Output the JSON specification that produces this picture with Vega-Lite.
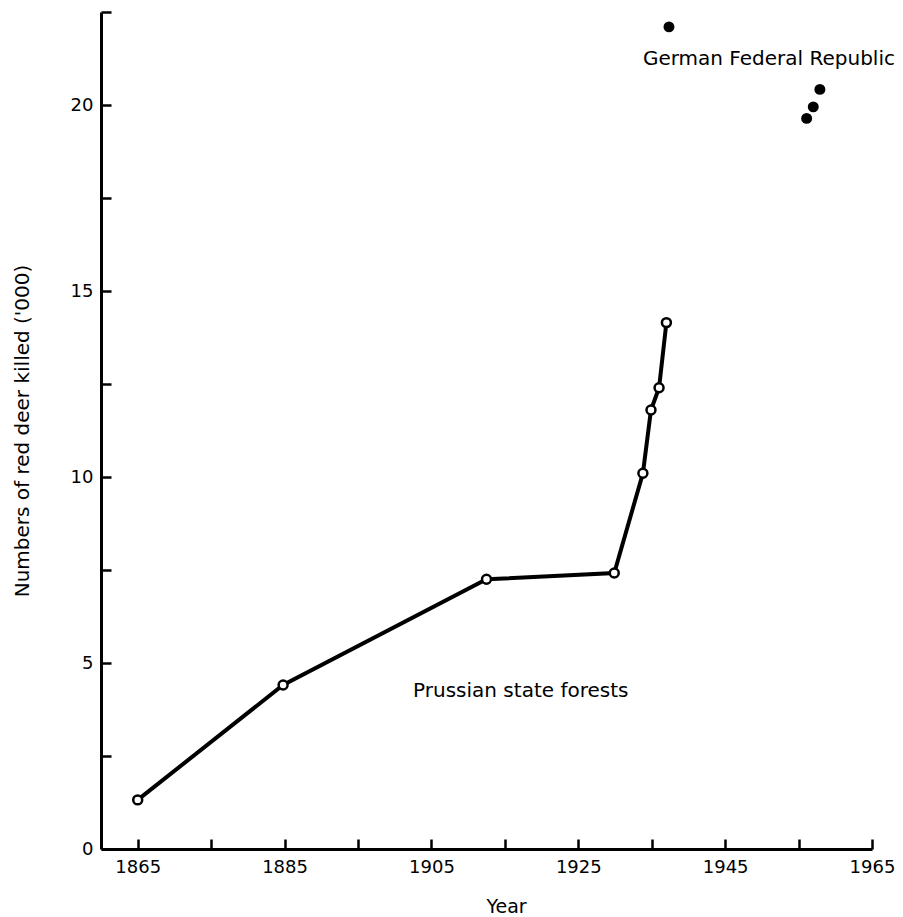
{
  "$schema": "https://vega.github.io/schema/vega-lite/v6.json",
  "width": 771,
  "height": 837,
  "autosize": "none",
  "padding": {"left": 101, "top": 12, "right": 31, "bottom": 68},
  "background": "white",
  "config": {"view": {"stroke": null}, "font": "DejaVu Sans"},
  "datasets": {
    "prussia": [
      {"year": 1865, "deer": 1.32},
      {"year": 1884.8, "deer": 4.41},
      {"year": 1912.5, "deer": 7.25},
      {"year": 1929.9, "deer": 7.42},
      {"year": 1933.8, "deer": 10.1},
      {"year": 1934.9, "deer": 11.8},
      {"year": 1936, "deer": 12.4},
      {"year": 1937, "deer": 14.15}
    ],
    "germany": [
      {"year": 1937.35, "deer": 22.1},
      {"year": 1956.1, "deer": 19.64},
      {"year": 1957, "deer": 19.95},
      {"year": 1957.9, "deer": 20.42}
    ],
    "labels": [
      {"year": 1933.8, "deer": 21.08, "label": "German Federal Republic"},
      {"year": 1902.5, "deer": 4.09, "label": "Prussian state forests"}
    ]
  },
  "resolve": {"axis": {"x": "independent", "y": "independent"}},
  "layer": [
    {
      "data": {"name": "prussia"},
      "mark": {"type": "line", "color": "black", "strokeWidth": 4},
      "encoding": {
        "x": {
          "field": "year", "type": "quantitative",
          "scale": {"domain": [1860, 1965], "nice": false, "zero": false},
          "axis": {
            "orient": "bottom",
            "title": "Year",
            "values": [1865, 1885, 1905, 1925, 1945, 1965],
            "format": "d",
            "grid": false, "ticks": false,
            "domainColor": "black", "domainWidth": 3,
            "labelPadding": 9, "labelFontSize": 18, "labelColor": "black", "labelFont": "DejaVu Sans",
            "labelFlush": false, "labelOverlap": false,
            "titleFontSize": 19, "titleFontWeight": "normal", "titleColor": "black", "titleFont": "DejaVu Sans",
            "titleX": 405, "titleY": 63, "titleBaseline": "alphabetic"
          }
        },
        "y": {
          "field": "deer", "type": "quantitative",
          "scale": {"domain": [0, 22.5], "nice": false, "zero": true},
          "axis": {
            "orient": "left",
            "title": "Numbers of red deer killed ('000)",
            "values": [0, 5, 10, 15, 20],
            "grid": false, "ticks": false,
            "domainColor": "black", "domainWidth": 3,
            "labelPadding": 8, "labelFontSize": 18, "labelColor": "black", "labelFont": "DejaVu Sans",
            "labelFlush": false, "labelOverlap": false,
            "titleFontSize": 20, "titleFontWeight": "normal", "titleColor": "black", "titleFont": "DejaVu Sans",
            "titleX": -73, "titleBaseline": "alphabetic"
          }
        }
      }
    },
    {
      "data": {"name": "prussia"},
      "mark": {"type": "point", "shape": "circle", "filled": true, "fill": "white", "stroke": "black", "strokeWidth": 2.5, "size": 80, "opacity": 1},
      "encoding": {
        "x": {
          "field": "year", "type": "quantitative",
          "axis": {
            "orient": "top", "offset": -837,
            "title": null, "labels": false, "domain": false, "grid": false,
            "values": [1865, 1875, 1885, 1895, 1905, 1915, 1925, 1935, 1945, 1955, 1965],
            "ticks": true, "tickSize": 10, "tickWidth": 2.5, "tickColor": "black"
          }
        },
        "y": {
          "field": "deer", "type": "quantitative",
          "axis": {
            "orient": "right", "offset": -771,
            "title": null, "labels": false, "domain": false, "grid": false,
            "values": [0, 2.5, 5, 7.5, 10, 12.5, 15, 17.5, 20, 22.5],
            "ticks": true, "tickSize": 10, "tickWidth": 2.5, "tickColor": "black"
          }
        }
      }
    },
    {
      "data": {"name": "germany"},
      "mark": {"type": "point", "shape": "circle", "filled": true, "color": "black", "size": 120, "opacity": 1},
      "encoding": {
        "x": {"field": "year", "type": "quantitative", "axis": null},
        "y": {"field": "deer", "type": "quantitative", "axis": null}
      }
    },
    {
      "data": {"name": "labels"},
      "mark": {"type": "text", "align": "left", "baseline": "alphabetic", "fontSize": 20, "font": "DejaVu Sans", "color": "black"},
      "encoding": {
        "x": {"field": "year", "type": "quantitative", "axis": null},
        "y": {"field": "deer", "type": "quantitative", "axis": null},
        "text": {"field": "label", "type": "nominal"}
      }
    }
  ]
}
